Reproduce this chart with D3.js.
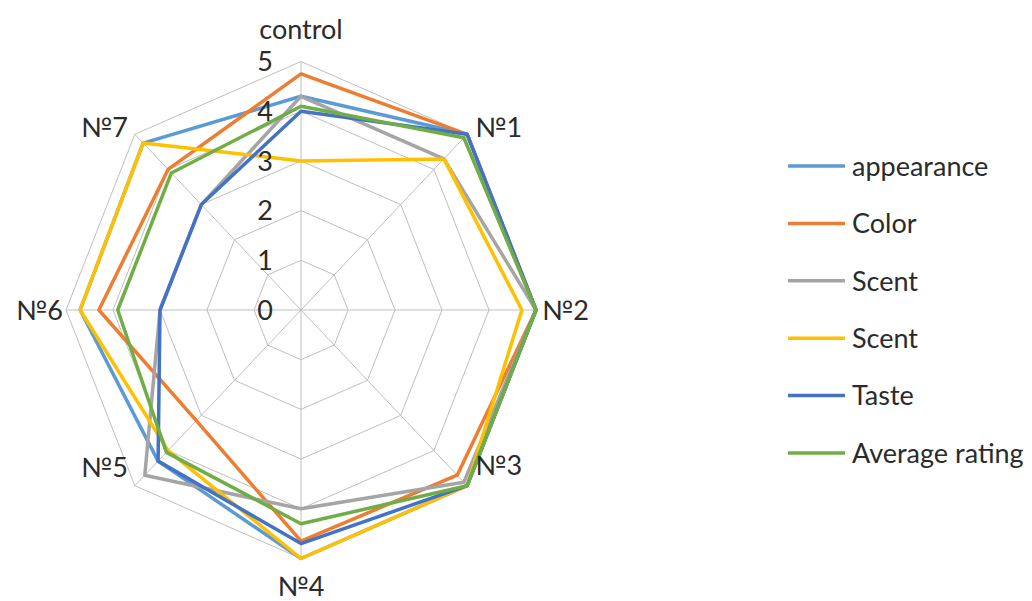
<!DOCTYPE html>
<html>
<head>
<meta charset="utf-8">
<script src="https://cdn.jsdelivr.net/npm/d3@7/dist/d3.min.js"></script>
<style>
  html, body { margin: 0; padding: 0; background: #fff; }
  svg text { font-family: Lato, "Open Sans", sans-serif; fill: #2b2b2b; }
</style>
</head>
<body>
<svg id="chart" width="1032" height="601"></svg>
<script>
// Samples on the radar axes
const categories = ["control", "№1", "№2", "№3", "№4", "№5", "№6", "№7"];
const tickValues = [0, 1, 2, 3, 4, 5];

// Series names and ratings (one value per category)
const seriesNames = ["appearance", "Color", "Scent", "Scent", "Taste", "Average rating"];
const seriesColors = ["#5B9BD5", "#ED7D31", "#A5A5A5", "#FFC000", "#4472C4", "#70AD47"];
const appearance = [4.3, 5, 5, 5, 5, 4.3, 4.7, 4.75];
const color      = [4.75, 5, 5, 4.7, 4.65, 3.15, 4.3, 4.0];
const scentA     = [4.3, 4.3, 5, 4.9, 4.0, 4.7, 3.0, 3.0];
const scentB     = [3.0, 4.3, 4.7, 5, 5, 4.0, 4.7, 4.75];
const taste      = [4.0, 5, 5, 5, 4.7, 4.3, 3.0, 3.0];
const average    = [4.1, 4.9, 5, 5, 4.3, 4.05, 3.9, 3.9];
const seriesValues = [appearance, color, scentA, scentB, taste, average];

const svg = d3.select("#chart");
const cx = 301, cy = 310;
const rx = 235, ry = 248.5;
const fontSize = 27;

const r = d3.scaleLinear().domain([0, 5]).range([0, 1]);
const angle = d3.scalePoint().domain(categories).range([0, 2 * Math.PI * (categories.length - 1) / categories.length]);

function pt(cat, v) {
  const a = angle(cat);
  return [cx + Math.sin(a) * r(v) * rx, cy - Math.cos(a) * r(v) * ry];
}

// Grid rings
const grid = svg.append("g");
tickValues.filter(t => t > 0).forEach(t => {
  grid.append("path")
    .attr("d", d3.line()(categories.map(c => pt(c, t))) + "Z")
    .attr("fill", "none")
    .attr("stroke", "#BFBFBF")
    .attr("stroke-width", 1);
});
// Spokes
categories.forEach(c => {
  const [x, y] = pt(c, 5);
  grid.append("line")
    .attr("x1", cx).attr("y1", cy).attr("x2", x).attr("y2", y)
    .attr("stroke", "#BFBFBF").attr("stroke-width", 1);
});

// Series lines
const lineGen = d3.line();
seriesValues.forEach((vals, i) => {
  svg.append("path")
    .attr("d", lineGen(categories.map((c, j) => pt(c, vals[j]))) + "Z")
    .attr("fill", "none")
    .attr("stroke", seriesColors[i])
    .attr("stroke-width", 3.5)
    .attr("stroke-linejoin", "round");
});

// Value tick labels along the top spoke
svg.append("g").selectAll("text").data(tickValues).join("text")
  .attr("x", cx - 36)
  .attr("y", d => cy - r(d) * ry)
  .attr("dy", "0.36em")
  .attr("text-anchor", "middle")
  .attr("font-size", fontSize)
  .text(d => d);

// Category labels
const labelPos = {
  "control": { dx: 0, dy: -32, anchor: "middle" },
  "№1": { dx: 8, dy: -7, anchor: "start" },
  "№2": { dx: 6, dy: 0, anchor: "start" },
  "№3": { dx: 8, dy: -20, anchor: "start" },
  "№4": { dx: 0, dy: 28, anchor: "middle" },
  "№5": { dx: -7, dy: -18, anchor: "end" },
  "№6": { dx: -3, dy: 0, anchor: "end" },
  "№7": { dx: -7, dy: -7, anchor: "end" }
};
svg.append("g").selectAll("text").data(categories).join("text")
  .attr("x", d => pt(d, 5)[0] + labelPos[d].dx)
  .attr("y", d => pt(d, 5)[1] + labelPos[d].dy)
  .attr("dy", "0.36em")
  .attr("text-anchor", d => labelPos[d].anchor)
  .attr("font-size", fontSize)
  .text(d => d);

// Legend
const legend = svg.append("g").attr("transform", "translate(788,166)");
const legendStep = 57.4;
seriesNames.forEach((name, i) => {
  const g = legend.append("g").attr("transform", `translate(0,${i * legendStep})`);
  g.append("line").attr("x1", 0).attr("x2", 57).attr("y1", 0).attr("y2", 0)
    .attr("stroke", seriesColors[i]).attr("stroke-width", 3.5);
  g.append("text").attr("x", 64).attr("y", 0).attr("dy", "0.36em")
    .attr("font-size", fontSize).text(name);
});
</script>
</body>
</html>
